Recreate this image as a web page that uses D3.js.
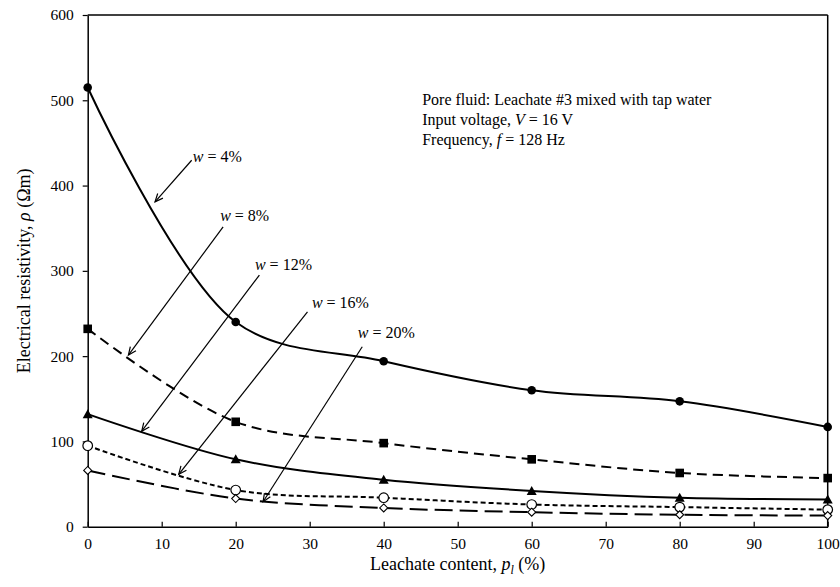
<!DOCTYPE html>
<html>
<head>
<meta charset="utf-8">
<script src="https://cdn.jsdelivr.net/npm/d3@7.9.0/dist/d3.min.js"></script>
<style>
  body { margin: 0; background: #fff; }
  svg { display: block; font-family: "Liberation Serif", "Times New Roman", serif; }
</style>
</head>
<body>
<svg id="chart" width="840" height="587"></svg>
<script>
// leachate content (%) and resistivity (ohm m) for each water content
const leachate = [0, 20, 40, 60, 80, 100];
const w4 = [515, 240, 194, 160, 147, 117];
const w8 = [232, 123, 98, 79, 63, 57];
const w12 = [132, 79, 55, 42, 34, 32];
const w16 = [95, 43, 34, 26, 23, 20];
const w20 = [66, 33, 22, 17, 14, 13];
const xTicks = [0, 10, 20, 30, 40, 50, 60, 70, 80, 90, 100];
const yTicks = [0, 100, 200, 300, 400, 500, 600];

// callouts: label, label anchor, line start, arrow tip (data units)
const calloutLabels = ['4%', '8%', '12%', '16%', '20%'];
const calloutText = [[14.2, 428], [17.9, 359], [22.6, 300.7], [30.3, 256], [36.5, 220.8]];
const calloutFrom = [[14.05, 429.7], [18.3, 351.6], [23.2, 295], [29.7, 252], [37.1, 211]];
const calloutTo = [[9.1, 380.9], [5.5, 201.2], [7.3, 112], [12.3, 61.4], [23.7, 29.3]];

const series = [
  { values: w4, marker: 'circle', dash: null },
  { values: w8, marker: 'square', dash: '10,6' },
  { values: w12, marker: 'triangle', dash: null },
  { values: w16, marker: 'ocircle', dash: '5,3' },
  { values: w20, marker: 'diamond', dash: '18,7' },
];

const svg = d3.select('#chart');
const margin = { left: 87.7, right: 12.3, top: 15, bottom: 60.3 };
const width = 840 - margin.left - margin.right;
const height = 587 - margin.top - margin.bottom;

const x = d3.scaleLinear().domain([0, 100]).range([margin.left, margin.left + width]);
const y = d3.scaleLinear().domain([0, 600]).range([margin.top + height, margin.top]);

svg.append('defs').append('marker')
  .attr('id', 'arrow')
  .attr('viewBox', '-10 -6 12 12')
  .attr('refX', 0).attr('refY', 0)
  .attr('markerWidth', 12).attr('markerHeight', 12)
  .attr('markerUnits', 'userSpaceOnUse')
  .attr('orient', 'auto')
  .append('path')
  .attr('d', 'M-8,-3.5L0,0L-8,3.5')
  .attr('fill', 'none')
  .attr('stroke', '#000')
  .attr('stroke-width', 1.2);

// axes
const xAxis = svg.append('g')
  .attr('transform', `translate(0,${y(0)})`)
  .call(d3.axisBottom(x).tickValues(xTicks).tickSizeInner(-5).tickSizeOuter(0).tickPadding(11));
const yAxis = svg.append('g')
  .attr('transform', `translate(${x(0)},0)`)
  .call(d3.axisLeft(y).tickValues(yTicks).tickSizeInner(5).tickSizeOuter(0).tickPadding(9));

[xAxis, yAxis].forEach((g) => {
  g.select('.domain').attr('stroke', '#000').attr('stroke-width', 1.5);
  g.selectAll('.tick line').attr('stroke', '#000').attr('stroke-width', 1.2);
  g.selectAll('.tick text')
    .attr('fill', '#000')
    .style('font-size', '15.5px')
    .style('font-family', '"Liberation Serif", serif');
});

// frame top and right
svg.append('line')
  .attr('x1', x(0)).attr('x2', x(100)).attr('y1', y(600)).attr('y2', y(600))
  .attr('stroke', '#000').attr('stroke-width', 1.5);
svg.append('line')
  .attr('x1', x(100)).attr('x2', x(100)).attr('y1', y(600)).attr('y2', y(0))
  .attr('stroke', '#000').attr('stroke-width', 1.5);

// curves
const line = d3.line()
  .x((d) => x(d[0]))
  .y((d) => y(d[1]))
  .curve(d3.curveCatmullRom.alpha(0.5));

series.forEach((s) => {
  const pts = leachate.map((v, i) => [v, s.values[i]]);
  svg.append('path')
    .datum(pts)
    .attr('d', line)
    .attr('fill', 'none')
    .attr('stroke', '#000')
    .attr('stroke-width', 2)
    .attr('stroke-dasharray', s.dash);

  const g = svg.append('g');
  pts.forEach((p) => {
    const cx = x(p[0]);
    const cy = y(p[1]);
    if (s.marker === 'circle') {
      g.append('circle').attr('cx', cx).attr('cy', cy).attr('r', 4.3).attr('fill', '#000');
    } else if (s.marker === 'square') {
      g.append('rect').attr('x', cx - 4.3).attr('y', cy - 4.3).attr('width', 8.6).attr('height', 8.6).attr('fill', '#000');
    } else if (s.marker === 'triangle') {
      g.append('path').attr('d', `M${cx},${cy - 5}L${cx + 5},${cy + 4}L${cx - 5},${cy + 4}Z`).attr('fill', '#000');
    } else if (s.marker === 'ocircle') {
      g.append('circle').attr('cx', cx).attr('cy', cy).attr('r', 4.8)
        .attr('fill', '#fff').attr('stroke', '#000').attr('stroke-width', 1.2);
    } else {
      g.append('path').attr('d', `M${cx},${cy - 4}L${cx + 4},${cy}L${cx},${cy + 4}L${cx - 4},${cy}Z`)
        .attr('fill', '#fff').attr('stroke', '#000').attr('stroke-width', 1.1);
    }
  });
});

// callouts
calloutLabels.forEach((lab, i) => {
  svg.append('line')
    .attr('x1', x(calloutFrom[i][0])).attr('y1', y(calloutFrom[i][1]))
    .attr('x2', x(calloutTo[i][0])).attr('y2', y(calloutTo[i][1]))
    .attr('stroke', '#000').attr('stroke-width', 1.2)
    .attr('marker-end', 'url(#arrow)');
  const t = svg.append('text')
    .attr('x', x(calloutText[i][0])).attr('y', y(calloutText[i][1]))
    .style('font-size', '16px');
  t.append('tspan').style('font-style', 'italic').text('w');
  t.append('tspan').text(` = ${lab}`);
});

// info text
const infoY = y(495);
const l1 = svg.append('text').attr('x', x(45.2)).attr('y', infoY).style('font-size', '16px');
l1.append('tspan').text('Pore fluid: Leachate #3 mixed with tap water');
const l2 = svg.append('text').attr('x', x(45.2)).attr('y', infoY + 20).style('font-size', '16px');
l2.append('tspan').text('Input voltage, ');
l2.append('tspan').style('font-style', 'italic').text('V');
l2.append('tspan').text(' = 16 V');
const l3 = svg.append('text').attr('x', x(45.2)).attr('y', infoY + 40).style('font-size', '16px');
l3.append('tspan').text('Frequency, ');
l3.append('tspan').style('font-style', 'italic').text('f');
l3.append('tspan').text(' = 128 Hz');

// axis titles
const xt = svg.append('text')
  .attr('x', x(50)).attr('y', 570)
  .attr('text-anchor', 'middle')
  .style('font-size', '18px');
xt.append('tspan').text('Leachate content, ');
xt.append('tspan').style('font-style', 'italic').text('p');
xt.append('tspan').style('font-style', 'italic').style('font-size', '12px').attr('dy', 4).text('l');
xt.append('tspan').attr('dy', -4).text(' (%)');

const yt = svg.append('text')
  .attr('transform', `translate(30,${(y(0) + y(600)) / 2}) rotate(-90)`)
  .attr('text-anchor', 'middle')
  .style('font-size', '18px');
yt.append('tspan').text('Electrical resistivity, ');
yt.append('tspan').style('font-style', 'italic').text('ρ');
yt.append('tspan').text(' (Ωm)');
</script>
</body>
</html>
